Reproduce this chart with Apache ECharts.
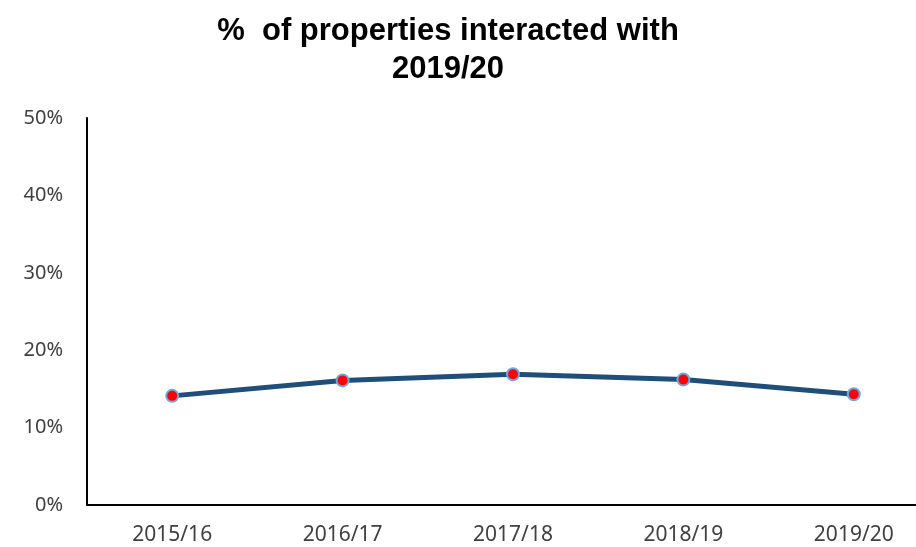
<!DOCTYPE html>
<html>
<head>
<meta charset="utf-8">
<script src="https://cdn.jsdelivr.net/npm/echarts@6/dist/echarts.min.js"></script>
<style>
    html, body { margin: 0; padding: 0; background: #fff; }
    #main { width: 916px; height: 547px; }
</style>
</head>
<body>
<div id="main"></div>
<script type="text/javascript">
    // data
    var years = ['2015/16', '2016/17', '2017/18', '2018/19', '2019/20'];
    var pctValues = [14.1, 16.1, 16.9, 16.2, 14.3];
    var yTicks = [0, 10, 20, 30, 40, 50];

    var myChart = echarts.init(document.getElementById('main'));
    var option = {
        animation: false,
        title: {
            text: '%  of properties interacted with\n2019/20',
            left: 443,
            top: 7,
            textAlign: 'center',
            textStyle: {
                fontFamily: 'Liberation Sans',
                fontWeight: 'bold',
                fontSize: 31,
                lineHeight: 38,
                color: '#000'
            }
        },
        // plot runs past the right edge of the picture, as in the original
        grid: {
            left: 87,
            width: 852,
            top: 118,
            bottom: 42,
            outerBoundsMode: 'none'
        },
        xAxis: {
            type: 'category',
            data: years,
            boundaryGap: true,
            axisLine: { lineStyle: { color: '#000', width: 2 } },
            axisTick: { show: false },
            axisLabel: {
                margin: 20,
                fontFamily: 'Noto Sans',
                fontSize: 21,
                color: '#404040'
            }
        },
        yAxis: {
            type: 'value',
            min: yTicks[0],
            max: yTicks[yTicks.length - 1],
            interval: 10,
            splitLine: { show: false },
            axisTick: { show: false },
            axisLine: { show: true, lineStyle: { color: '#000', width: 2 } },
            axisLabel: {
                margin: 24,
                fontFamily: 'Noto Sans',
                fontSize: 20,
                color: '#404040',
                formatter: '{value}%'
            }
        },
        series: [
            {
                type: 'line',
                data: pctValues,
                symbol: 'circle',
                symbolSize: 12,
                lineStyle: { color: '#1F4E79', width: 5 },
                itemStyle: {
                    color: '#FF0000',
                    borderColor: '#6FA8DC',
                    borderWidth: 2
                }
            }
        ]
    };
    myChart.setOption(option);
</script>
</body>
</html>
